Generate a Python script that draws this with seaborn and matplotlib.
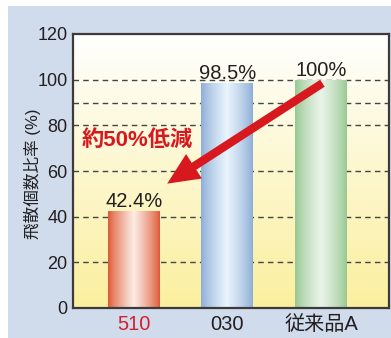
import numpy as np
import pandas as pd
import matplotlib
matplotlib.use("Agg")
import matplotlib.pyplot as plt
from matplotlib.patches import Rectangle, FancyArrowPatch
import seaborn as sns

# Data
categories = ["510", "030", "従来品A"]
values = [42.4, 98.5, 100.0]
value_labels = ["42.4%", "98.5%", "100%"]
y_ticks = [0, 20, 40, 60, 80, 100, 120]
grid_levels = [20, 40, 60, 80, 90, 100]
ylabel = "飛散個数比率 (%)"
callout = "約50%低減"

edge_colors = ["#de5632", "#8cacd6", "#96c890"]
center_colors = ["#fcece5", "#eaf5fd", "#ebf4eb"]
label_colors = ["#d4202a", "#231f20", "#231f20"]

sns.set_theme(style="white")
plt.rcParams["font.family"] = ["Liberation Sans", "Noto Sans CJK JP", "DejaVu Sans"]

fig = plt.figure(figsize=(3.91, 3.38), dpi=100, facecolor="white")
# light-blue panel behind the chart
fig.patches.append(Rectangle((8 / 391, 0), 1 - 8 / 391, 1 - 6 / 338,
                             transform=fig.transFigure, facecolor="#d0dbec",
                             edgecolor="none", zorder=-10))

ax = fig.add_axes([73 / 391, 30 / 338, 316 / 391, 274 / 338])
ax.set_zorder(5)
ax.set_facecolor("none")

df = pd.DataFrame({"cat": categories, "val": values})
sns.barplot(data=df, x="cat", y="val", order=categories, ax=ax,
            width=0.556, color="#ffffff", edgecolor="none", saturation=1,
            zorder=3)

ax.set_xlim(-0.652, 2.727)
ax.set_ylim(0, 120)

# plot-area gradient: white at top to pale yellow at bottom
bg = np.linspace(0, 1, 256).reshape(-1, 1)
top = np.array(matplotlib.colors.to_rgb("#ffffff"))
bot = np.array(matplotlib.colors.to_rgb("#fbef9e"))
bg_img = top[None, None, :] * (1 - bg[..., None]) + bot[None, None, :] * bg[..., None]
ax.imshow(bg_img, extent=[0, 1, 0, 1], transform=ax.transAxes,
          aspect="auto", origin="upper", zorder=0)

# cylindrical gradient fill for each bar
t = np.linspace(-1, 1, 256)
w = (1 - np.abs(t)) ** 0.8
for patch, ec, cc in zip(ax.patches, edge_colors, center_colors):
    e = np.array(matplotlib.colors.to_rgb(ec))
    c = np.array(matplotlib.colors.to_rgb(cc))
    img = e[None, :] * (1 - w[:, None]) + c[None, :] * w[:, None]
    img = img[None, :, :]
    x0, y0 = patch.get_x(), patch.get_y()
    im = ax.imshow(img, extent=[x0, x0 + patch.get_width(), y0, y0 + patch.get_height()],
                   aspect="auto", zorder=3)
    im.set_clip_path(patch)

ax.set_xlim(-0.652, 2.727)
ax.set_ylim(0, 120)

for lv in grid_levels:
    ax.axhline(lv, color="#444444", lw=1.0, ls=(0, (4, 3)), zorder=2)

for i, (v, lab) in enumerate(zip(values, value_labels)):
    ax.text(i, v + 1.8, lab, ha="center", va="baseline", fontsize=14.5,
            color="#231f20", zorder=5)

ax.set_yticks(y_ticks)
ax.set_yticklabels([str(v) for v in y_ticks], fontsize=13, color="#231f20")
ax.set_xticks(range(len(categories)))
ax.set_xticklabels(categories, fontsize=14.5)
for tl, col in zip(ax.get_xticklabels(), label_colors):
    tl.set_color(col)
ax.tick_params(axis="y", length=0, pad=4)
ax.tick_params(axis="x", length=0, pad=5)
ax.set_xlabel("")
ax.set_ylabel(ylabel, fontsize=12, color="#231f20")
ax.yaxis.set_label_coords(-0.10, 0.49)

for sp in ax.spines.values():
    sp.set_visible(True)
    sp.set_color("#3e3a39")
    sp.set_linewidth(1.6)
    sp.set_zorder(6)

# reduction arrow and callout
arrow = FancyArrowPatch((2.04, 99.1), (0.33, 53.8),
                        arrowstyle="simple,head_length=23,head_width=21,tail_width=6",
                        color="#d7191f", mutation_scale=1, zorder=7, lw=0)
ax.add_patch(arrow)
ax.text(0.04, 73.2, callout, ha="center", va="center", fontsize=16,
        fontweight="bold", color="#d7191f", zorder=7)

fig.savefig("out.png", dpi=100, facecolor="white")
